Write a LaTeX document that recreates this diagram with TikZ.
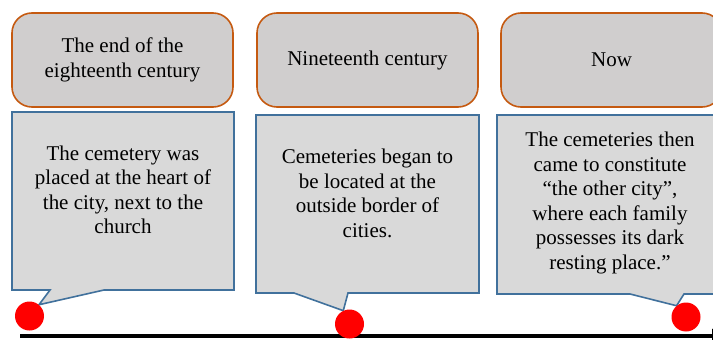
\documentclass[tikz,border=0pt]{standalone}
\usepackage{fontspec}
\setmainfont{Liberation Serif}
\usetikzlibrary{backgrounds, arrows.meta}
\definecolor{eraline}{HTML}{C55A11}
\definecolor{erafill}{HTML}{D0CECE}
\definecolor{noteline}{HTML}{41719C}
\definecolor{notefill}{HTML}{D9D9D9}

\begin{document}
\begin{tikzpicture}[x=1pt, y=-1pt,
    era/.style={draw=eraline, fill=erafill, line width=1.6pt, rounded corners=20pt,
        minimum width=221pt, minimum height=94pt, inner sep=0pt, align=center,
        font=\fontsize{21}{25}\selectfont},
    notetext/.style={inner sep=0pt, align=center, font=\fontsize{21}{24.5}\selectfont},
    callout/.style={draw=noteline, fill=notefill, line width=1.6pt, line join=miter},
    event/.style={circle, fill=red, minimum size=29pt, inner sep=0pt}]
    \useasboundingbox (0,0) rectangle (713,340);

    % periods
    \node[era] (t1) at (122.5,60) {The end of the\\eighteenth century};
    \node[era] (t2) at (367.5,60) {Nineteenth century};
    \node[era] (t3) at (611.5,60) {Now};

    % timeline
    \coordinate (tl) at (20,336);
    \coordinate (tr) at (724,336);
    \draw[line width=4pt, -{Triangle[length=12pt,width=14pt]}] (tl) -- (tr);

    % events
    \node[event] (p1) at (29.5,316) {};
    \node[event] (p2) at (349.5,324) {};
    \node[event] (p3) at (686,317) {};

    % notes
    \node[notetext] (c1) at (123,190) {The cemetery was\\placed at the heart of\\the city, next to the\\church};
    \node[notetext] (c2) at (367.5,193.5) {Cemeteries began to\\be located at the\\outside border of\\cities.};
    \node[notetext] (c3) at (610,203) {The cemeteries then\\came to constitute\\“the other city”,\\where each family\\possesses its dark\\resting place.”};

    \begin{scope}[on background layer]
        \draw[callout] (12,112) -- (234,112) -- (234,290) -- (104,290) -- (p1.50) -- (50,290) -- (12,290) -- cycle;
        \draw[callout] (256,115) -- (479,115) -- (479,293) -- (348,293) -- (p2.115) -- (294,293) -- (256,293) -- cycle;
        \draw[callout] (497,115) -- (725,115) -- (725,294) -- (684,294) -- (p3.130) -- (630,294) -- (497,294) -- cycle;
    \end{scope}
\end{tikzpicture}
\end{document}
